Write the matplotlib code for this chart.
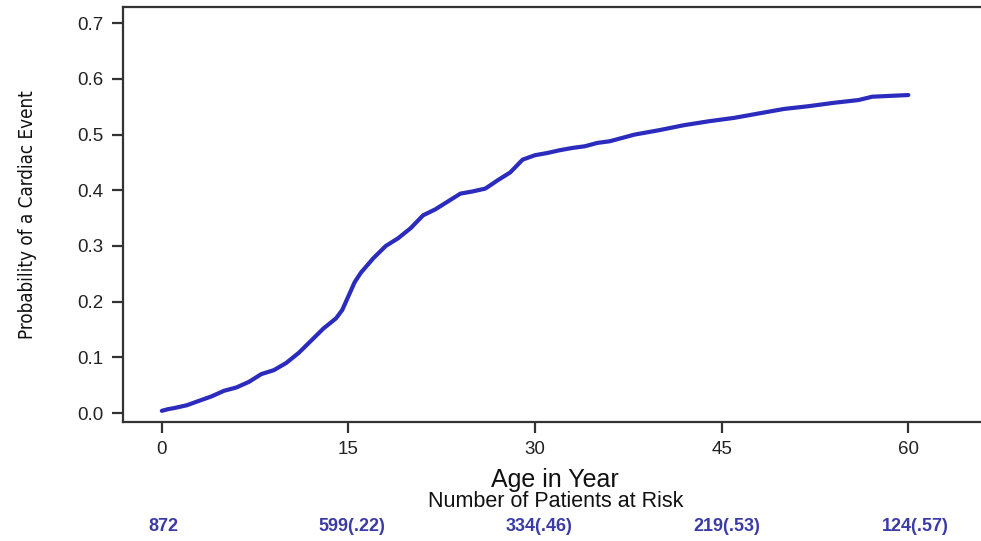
import matplotlib
matplotlib.use("Agg")
import matplotlib.pyplot as plt
import matplotlib.transforms as mtransforms

# cumulative probability of a cardiac event by age
age = [0, 0.5, 1, 2, 3, 4, 5, 6, 7, 8, 9, 10, 11, 12, 13, 14, 14.5, 15, 15.5,
       16, 17, 18, 19, 20, 21, 22, 23, 24, 25, 26, 27, 28, 29, 30, 31, 32, 33,
       34, 35, 36, 37, 38, 40, 42, 44, 46, 48, 50, 52, 54, 56, 57.1, 60]
prob = [0.004, 0.007, 0.009, 0.014, 0.022, 0.030, 0.040, 0.046, 0.056, 0.070,
        0.077, 0.090, 0.108, 0.130, 0.152, 0.170, 0.185, 0.210, 0.235, 0.252,
        0.278, 0.300, 0.314, 0.332, 0.355, 0.366, 0.380, 0.394, 0.398, 0.403,
        0.418, 0.432, 0.455, 0.463, 0.467, 0.472, 0.476, 0.479, 0.485, 0.488,
        0.494, 0.500, 0.508, 0.517, 0.524, 0.530, 0.538, 0.546, 0.551, 0.557,
        0.562, 0.568, 0.571]

xticks = [0, 15, 30, 45, 60]
yticks = [0.0, 0.1, 0.2, 0.3, 0.4, 0.5, 0.6, 0.7]
at_risk = ["872", "599(.22)", "334(.46)", "219(.53)", "124(.57)"]
risk_pos = [0.15, 15.3, 30.3, 45.4, 60.6]

plt.rcParams['font.family'] = ['Liberation Sans', 'DejaVu Sans']

fig = plt.figure(figsize=(9.81, 5.41), dpi=100)
ax = fig.add_axes([0.125, 0.22, 0.877, 0.767])

ax.plot(age, prob, color='#2b2bbd', lw=3.0, solid_capstyle='round')

ax.set_xlim(-3.15, 66)
ax.set_ylim(-0.016, 0.729)
ax.set_xticks(xticks)
ax.set_yticks(yticks)
ax.set_yticklabels([f"{v:.1f}" for v in yticks])

for s in ['left', 'bottom', 'top']:
    ax.spines[s].set_color('#333333')
    ax.spines[s].set_linewidth(1.6)
ax.spines['right'].set_visible(False)
ax.tick_params(direction='out', length=8, width=1.6, color='#333333',
               labelsize=13.5, labelcolor='#222222', pad=6)

ax.set_ylabel('Probability of a Cardiac Event', fontsize=13.5,
              family='DejaVu Sans', fontstretch='condensed',
              color='#111111')
ax.yaxis.set_label_coords(-0.1, 0.5)

# x axis titles
fig.text(0.566, 0.112, 'Age in Year', ha='center', va='center',
         fontsize=18, color='#111111')
fig.text(0.566, 0.073, 'Number of Patients at Risk', ha='center',
         va='center', fontsize=15.5, color='#111111')

# numbers at risk under each tick
trans = mtransforms.blended_transform_factory(ax.transData, fig.transFigure)
for x, lab in zip(risk_pos, at_risk):
    ax.text(x, 0.026, lab, transform=trans, ha='center', va='center',
            fontsize=13, fontweight='bold', color='#3b3ba8')

fig.savefig('out.png', dpi=100)
